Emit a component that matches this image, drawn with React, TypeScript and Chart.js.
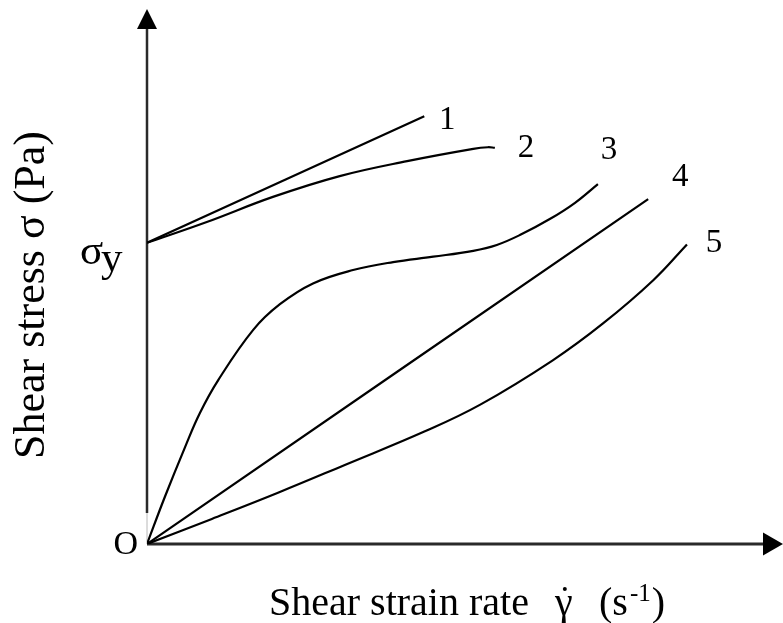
import React, { useEffect, useRef } from "react";
import { Chart, registerables } from "chart.js";

Chart.register(...registerables);

// Arbitrary units: shear strain rate (x) and shear stress (y), both axes 0..100
const curve1X = [0, 43.6];
const curve1Y = [56.4, 80.1];

const curve2X = [0, 9.4, 19.8, 30.3, 40.9, 51.3, 53.6, 54.7];
const curve2Y = [56.4, 60.3, 65.0, 68.9, 71.7, 74.0, 74.3, 74.2];

const curve3X = [0, 2.8, 6.0, 8.3, 11.2, 16.7, 20.9, 26.1, 32.4, 38.7, 45.0, 51.3, 55.0, 58.7, 63.4, 67.3, 70.9];
const curve3Y = [0, 8.8, 18.2, 24.5, 30.7, 40.1, 44.9, 48.8, 51.3, 52.8, 53.8, 54.9, 56.0, 57.9, 60.9, 63.9, 67.4];

const curve4X = [0, 78.8];
const curve4Y = [0, 64.6];

const curve5X = [0, 10.2, 20.6, 31.1, 43.7, 52.4, 63.8, 71.7, 79.6, 84.9];
const curve5Y = [0, 4.7, 9.6, 14.8, 21.1, 26.1, 34.4, 41.3, 49.4, 56.1];

const curveNames = ["1", "2", "3", "4", "5"];
const yieldStressValue = 56.4;

const yTitle = "Shear stress σ (Pa)";
const xTitleMain = "Shear strain rate";
const xTitleSymbol = "γ";
const xTitleUnit = "(s";
const xTitleExp = "-1";
const xTitleClose = ")";
const originLabel = "O";
const yieldSymbol = "σ";
const yieldSub = "y";

// label offsets (pixels) relative to each curve's last point
const labelOffsets = [
  [23, 13],
  [31, 9],
  [11, -25],
  [32, -13],
  [27, 8],
];

const SERIF = '"Liberation Serif", "Times New Roman", serif';

function pts(xs: number[], ys: number[]) {
  return xs.map((x, i) => ({ x, y: ys[i] }));
}

const decorPlugin = {
  id: "decor",
  beforeDatasetsDraw(chart: any) {
    const { ctx, chartArea, scales } = chart;
    const x0 = scales.x.getPixelForValue(0);
    const y0 = scales.y.getPixelForValue(0);
    const top = chartArea.top;
    const right = chartArea.right;
    ctx.save();
    // y axis
    ctx.strokeStyle = "#2a2a2a";
    ctx.lineWidth = 2.5;
    ctx.beginPath();
    ctx.moveTo(x0, top + 18);
    ctx.lineTo(x0, y0 - 31);
    ctx.stroke();
    ctx.strokeStyle = "#b8b8b8";
    ctx.lineWidth = 1;
    ctx.beginPath();
    ctx.moveTo(x0, y0 - 31);
    ctx.lineTo(x0, y0);
    ctx.stroke();
    // x axis
    ctx.strokeStyle = "#2a2a2a";
    ctx.lineWidth = 3;
    ctx.beginPath();
    ctx.moveTo(x0, y0);
    ctx.lineTo(right - 19, y0);
    ctx.stroke();
    // arrows
    ctx.fillStyle = "#000";
    ctx.beginPath();
    ctx.moveTo(x0, top - 1);
    ctx.lineTo(x0 - 10, top + 19);
    ctx.lineTo(x0 + 10, top + 19);
    ctx.closePath();
    ctx.fill();
    ctx.beginPath();
    ctx.moveTo(right, y0);
    ctx.lineTo(right - 20, y0 - 11.5);
    ctx.lineTo(right - 20, y0 + 11.5);
    ctx.closePath();
    ctx.fill();
    ctx.restore();
  },
  afterDraw(chart: any) {
    const { ctx, scales } = chart;
    const x0 = scales.x.getPixelForValue(0);
    const y0 = scales.y.getPixelForValue(0);
    ctx.save();
    ctx.fillStyle = "#000";
    ctx.textBaseline = "alphabetic";

    // curve labels
    ctx.font = `33px ${SERIF}`;
    ctx.textAlign = "center";
    chart.data.datasets.forEach((_: any, i: number) => {
      const meta = chart.getDatasetMeta(i);
      const last = meta.data[meta.data.length - 1];
      ctx.fillText(curveNames[i], last.x + labelOffsets[i][0], last.y + labelOffsets[i][1]);
    });

    // origin
    ctx.font = `34px ${SERIF}`;
    ctx.textAlign = "right";
    ctx.fillText(originLabel, x0 - 9, y0 + 10);

    // sigma_y
    const ys = scales.y.getPixelForValue(yieldStressValue);
    ctx.textAlign = "left";
    ctx.font = `43px ${SERIF}`;
    ctx.fillText(yieldSymbol, 80, ys + 21);
    ctx.fillText(yieldSub, 101, ys + 28);

    // x title
    ctx.font = `40px ${SERIF}`;
    const bx = 615;
    ctx.fillText(xTitleMain, 269, bx);
    const gx = 555;
    ctx.fillText(xTitleSymbol, gx, bx);
    const gw = ctx.measureText(xTitleSymbol).width;
    ctx.beginPath();
    ctx.arc(gx + gw / 2 + 1, bx - 26, 2, 0, Math.PI * 2);
    ctx.fill();
    ctx.fillText(xTitleUnit, 599, bx);
    let cx = 599 + ctx.measureText(xTitleUnit).width + 2;
    ctx.font = `25px ${SERIF}`;
    ctx.fillText(xTitleExp, cx, bx - 14);
    cx += ctx.measureText(xTitleExp).width + 1;
    ctx.font = `40px ${SERIF}`;
    ctx.fillText(xTitleClose, cx, bx);

    // y title
    ctx.translate(44, 295);
    ctx.rotate(-Math.PI / 2);
    ctx.textAlign = "center";
    ctx.font = `44px ${SERIF}`;
    ctx.fillText(yTitle, 0, 0);
    ctx.restore();
  },
};

export default function App() {
  const ref = useRef<HTMLCanvasElement | null>(null);
  useEffect(() => {
    if (!ref.current) return;
    const line = { borderColor: "#000", borderWidth: 2.2, pointRadius: 0, fill: false, tension: 0.4 };
    const chart = new Chart(ref.current, {
      type: "line",
      data: {
        datasets: [
          { label: "1", data: pts(curve1X, curve1Y), ...line },
          { label: "2", data: pts(curve2X, curve2Y), ...line },
          { label: "3", data: pts(curve3X, curve3Y), ...line },
          { label: "4", data: pts(curve4X, curve4Y), ...line },
          { label: "5", data: pts(curve5X, curve5Y), ...line },
        ],
      },
      options: {
        animation: false,
        responsive: false,
        layout: { padding: { left: 147, top: 10, right: 0, bottom: 79 } },
        scales: {
          x: { type: "linear", min: 0, max: 100, display: false },
          y: { type: "linear", min: 0, max: 100, display: false },
        },
        plugins: { legend: { display: false }, tooltip: { enabled: false } },
        events: [],
      },
      plugins: [decorPlugin],
    });
    return () => chart.destroy();
  }, []);
  return (
    <div style={{ position: "absolute", left: 0, top: 0, width: 783, height: 623, background: "#fff" }}>
      <canvas ref={ref} width={783} height={623} style={{ display: "block" }} />
    </div>
  );
}
